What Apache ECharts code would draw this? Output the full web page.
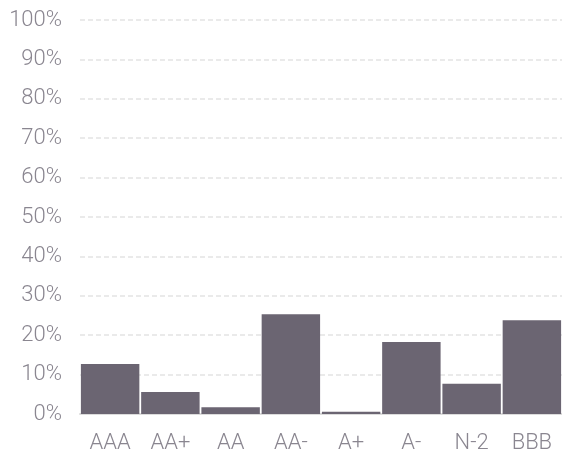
<!DOCTYPE html>
<html><head><meta charset="utf-8">
<script src="https://cdn.jsdelivr.net/npm/echarts@6/dist/echarts.min.js"></script>
<style>html,body{margin:0;padding:0;background:#fff;overflow:hidden}#c{width:562px;height:454px}</style>
</head><body><div id="c"></div>
<script>
const categories = ['AAA','AA+','AA','AA-','A+','A-','N-2','BBB'];
const values = [12.7, 5.6, 1.7, 25.3, 0.6, 18.3, 7.7, 23.8];
const yTicks = [0,10,20,30,40,50,60,70,80,90,100];

const chart = echarts.init(document.getElementById('c'));
chart.setOption({
  animation: false,
  grid: {left: 80, right: 0, top: 20, bottom: 38},
  xAxis: {
    type: 'category', data: categories,
    axisLine: {lineStyle: {color: '#dcdcdc', width: 2}},
    axisTick: {show: false},
    axisLabel: {color: '#8a8690', fontFamily: 'Roboto', fontWeight: 300, fontSize: 22, margin: 18}
  },
  yAxis: {
    type: 'value', min: 0, max: 100, interval: 10,
    axisLine: {show: false}, axisTick: {show: false},
    axisLabel: {color: '#8a8690', fontFamily: 'Roboto', fontWeight: 300, fontSize: 22, margin: 18,
      formatter: v => yTicks.includes(v) ? v + '%' : ''},
    splitLine: {lineStyle: {color: '#e4e4e4', type: [5, 3], width: 1.5}}
  },
  series: [{
    type: 'bar', data: values, barCategoryGap: '3%',
    itemStyle: {color: '#6b6572'}
  }]
});
</script></body></html>
